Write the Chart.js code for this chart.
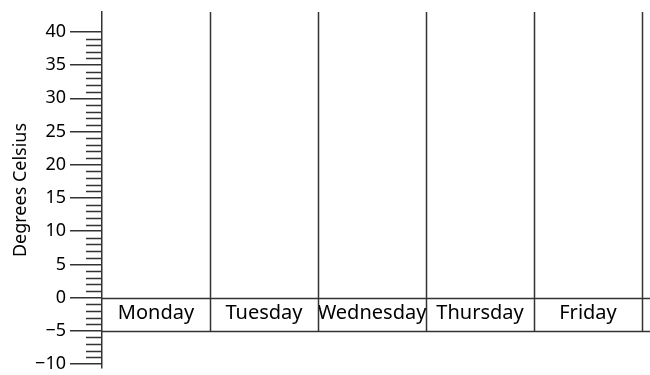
<!DOCTYPE html>
<html>
<head>
<meta charset="utf-8">
<script src="https://cdn.jsdelivr.net/npm/chart.js@4/dist/chart.umd.min.js"></script>
<style>
  html, body { margin: 0; padding: 0; background: #fff; }
  #wrap { width: 650px; height: 375px; }
</style>
</head>
<body>
<div id="wrap"><canvas id="chart"></canvas></div>
<script>
// blank temperature worksheet: no bars filled in yet
const days = ['Monday', 'Tuesday', 'Wednesday', 'Thursday', 'Friday'];
const temps = [null, null, null, null, null];
const yTicks = [40, 35, 30, 25, 20, 15, 10, 5, 0, -5, -10];
const yMin = -10.6;
const yMax = 43;
const bandTop = 0;
const bandBottom = -5;

const INK = '#333';
const TEXT = '#000';
const FONT = "'Noto Sans', sans-serif";

// label strip, day dividers and minor ticks, all placed through the scales
const worksheet = {
  id: 'worksheet',
  afterDraw(chart) {
    const { ctx, chartArea, scales: { x, y } } = chart;
    const y0 = Math.round(y.getPixelForValue(bandTop)) + 0.5;
    const y5 = Math.round(y.getPixelForValue(bandBottom)) + 0.5;
    const step = (chartArea.right - chartArea.left) / days.length;
    ctx.save();
    ctx.strokeStyle = INK;
    ctx.lineWidth = 1.5;
    ctx.beginPath();
    for (let i = 1; i <= days.length; i++) {
      const px = Math.round(chartArea.left + i * step) + 0.5;
      ctx.moveTo(px, chartArea.top);
      ctx.lineTo(px, y5);
    }
    ctx.moveTo(chartArea.left, y0);
    ctx.lineTo(chart.width, y0);
    ctx.moveTo(chartArea.left, y5);
    ctx.lineTo(chart.width, y5);
    for (let v = -10; v <= 40; v++) {
      if (v % 5 === 0) continue;
      const py = Math.round(y.getPixelForValue(v)) + 0.5;
      ctx.moveTo(chartArea.left - 16, py);
      ctx.lineTo(chartArea.left, py);
    }
    ctx.stroke();
    ctx.restore();
  }
};

new Chart(document.getElementById('chart'), {
  type: 'bar',
  data: {
    labels: days,
    datasets: [{ label: 'Temperature', data: temps, backgroundColor: '#888' }]
  },
  options: {
    responsive: true,
    maintainAspectRatio: false,
    animation: false,
    layout: { padding: { top: 12, bottom: 7, right: 8, left: 0 } },
    plugins: { legend: { display: false }, tooltip: { enabled: false } },
    scales: {
      x: {
        position: { y: 0 },
        offset: true,
        grid: { display: false, drawTicks: false },
        border: { display: false },
        ticks: { color: TEXT, font: { family: FONT, size: 20 }, padding: 4, maxRotation: 0, autoSkip: false }
      },
      y: {
        min: yMin,
        max: yMax,
        afterBuildTicks: (s) => { s.ticks = yTicks.map((v) => ({ value: v })); },
        afterFit: (s) => { s.width = 102; s.paddingTop = 0; s.paddingBottom = 0; },
        ticks: {
          color: TEXT,
          font: { family: FONT, size: 18 },
          padding: 4,
          callback: (v) => String(v).replace('-', '\u2212')
        },
        grid: { drawOnChartArea: false, tickLength: 32, color: INK, lineWidth: 1.5 },
        border: { color: INK, width: 1.5 },
        title: {
          display: true,
          text: 'Degrees Celsius',
          color: TEXT,
          font: { family: FONT, size: 18 },
          padding: { top: 10, bottom: 0 }
        }
      }
    }
  },
  plugins: [worksheet]
});
</script>
</body>
</html>
